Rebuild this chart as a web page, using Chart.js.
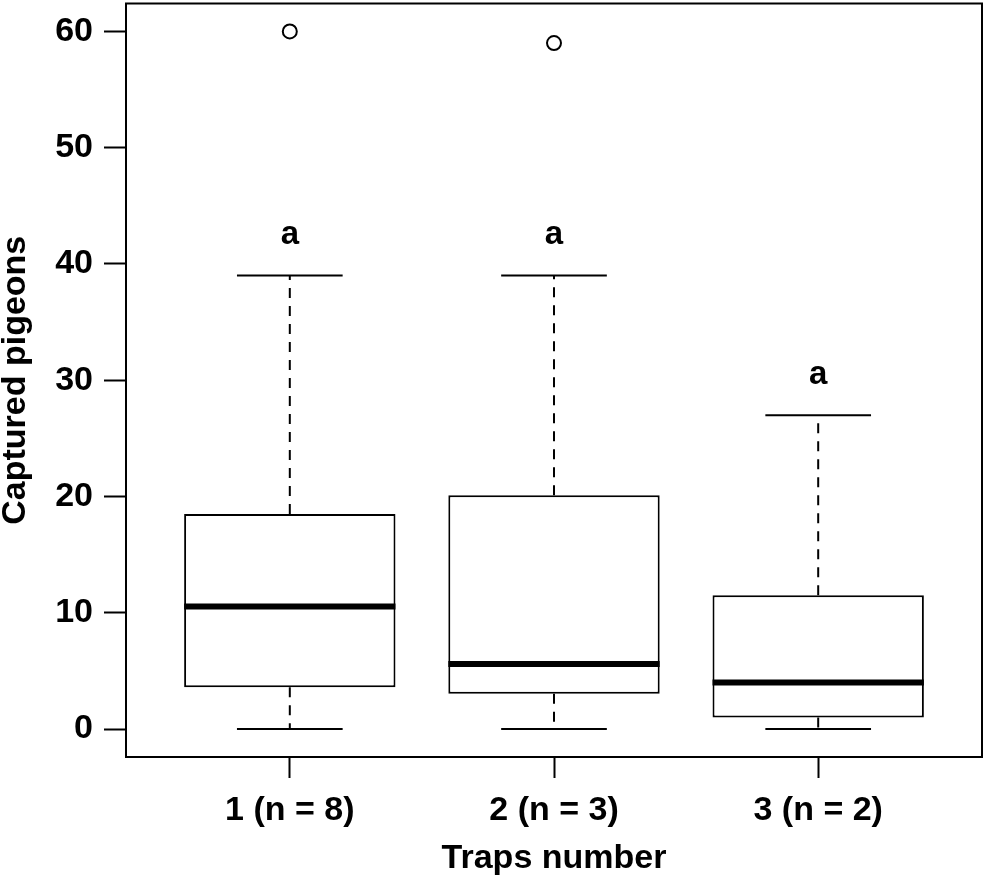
<!DOCTYPE html>
<html>
<head>
<meta charset="utf-8">
<script src="https://cdn.jsdelivr.net/npm/chart.js@4.4.1/dist/chart.umd.min.js"></script>
<style>
  html, body { margin: 0; padding: 0; background: #fff; }
  .chart-parent { width: 986px; height: 879px; }
</style>
</head>
<body>
<div class="chart-parent"><canvas id="myChart"></canvas></div>
<script>
// values
const categories = ['1 (n = 8)', '2 (n = 3)', '3 (n = 2)'];
const whiskerLow = [0, 0, 0];
const quartile1 = [3.6, 3.05, 1.0];
const medians = [10.55, 5.6, 4.0];
const quartile3 = [18.5, 20.1, 11.5];
const whiskerHigh = [39, 39, 27];
const outlierGroup = [1, 2];
const outlierValues = [60, 59];
const groupLetters = ['a', 'a', 'a'];
const yTicks = [0, 10, 20, 30, 40, 50, 60];

const FONT = 'Liberation Sans, Arial, Helvetica, sans-serif';
const BOX_HALF = 0.4;
const CAP_HALF = 0.2;
const LETTER_GAP = 3.5;

const boxPlugin = {
  id: 'boxParts',
  afterDatasetsDraw(chart) {
    const { ctx, scales: { x, y }, chartArea } = chart;
    ctx.save();
    ctx.strokeStyle = '#000';
    ctx.lineCap = 'butt';
    categories.forEach((c, i) => {
      const pos = i + 1;
      const cx = x.getPixelForValue(pos);

      // dashed whiskers
      ctx.lineWidth = 2;
      ctx.setLineDash([10, 8]);
      ctx.beginPath();
      ctx.moveTo(cx, y.getPixelForValue(quartile3[i]));
      ctx.lineTo(cx, y.getPixelForValue(whiskerHigh[i]));
      ctx.moveTo(cx, y.getPixelForValue(quartile1[i]));
      ctx.lineTo(cx, y.getPixelForValue(whiskerLow[i]));
      ctx.stroke();

      // caps
      ctx.setLineDash([]);
      ctx.beginPath();
      [whiskerLow[i], whiskerHigh[i]].forEach(v => {
        const py = y.getPixelForValue(v);
        ctx.moveTo(x.getPixelForValue(pos - CAP_HALF), py);
        ctx.lineTo(x.getPixelForValue(pos + CAP_HALF), py);
      });
      ctx.stroke();

      // median
      ctx.lineWidth = 6;
      ctx.beginPath();
      const my = y.getPixelForValue(medians[i]);
      ctx.moveTo(x.getPixelForValue(pos - BOX_HALF), my);
      ctx.lineTo(x.getPixelForValue(pos + BOX_HALF), my);
      ctx.stroke();

      // letters
      ctx.fillStyle = '#000';
      ctx.font = 'bold 33px ' + FONT;
      ctx.textAlign = 'center';
      ctx.textBaseline = 'middle';
      ctx.fillText(groupLetters[i], cx, y.getPixelForValue(whiskerHigh[i] + LETTER_GAP));
    });

    // plot frame
    ctx.lineWidth = 2;
    ctx.strokeRect(chartArea.left, chartArea.top,
      chartArea.right - chartArea.left, chartArea.bottom - chartArea.top);
    ctx.restore();
  }
};

const ctx = document.getElementById('myChart');

const myChart = new Chart(ctx, {
  type: 'bar',
  data: {
    datasets: [
      {
        type: 'bar',
        data: categories.map((c, i) => ({ x: i + 1, y: [quartile1[i], quartile3[i]] })),
        backgroundColor: '#fff',
        borderColor: '#000',
        borderWidth: 2,
        borderSkipped: false,
        barPercentage: 2 * BOX_HALF,
        categoryPercentage: 1,
      },
      {
        type: 'scatter',
        data: outlierGroup.map((g, i) => ({ x: g, y: outlierValues[i] })),
        pointRadius: 7,
        pointBorderWidth: 2,
        pointBackgroundColor: '#fff',
        pointBorderColor: '#000',
      },
    ],
  },
  options: {
    responsive: true,
    maintainAspectRatio: false,
    animation: false,
    layout: { autoPadding: false, padding: { top: 3.5, right: 4, left: 0, bottom: 0 } },
    plugins: {
      legend: { display: false },
      tooltip: { enabled: false },
    },
    scales: {
      x: {
        type: 'linear',
        offset: false,
        min: 0.38,
        max: 3.62,
        afterBuildTicks: (scale) => {
          scale.ticks = categories.map((c, i) => ({ value: i + 1 }));
        },
        afterFit: (scale) => {
          scale.height = 122;
          scale.paddingLeft = 0;
          scale.paddingRight = 0;
        },
        grid: { offset: false, drawOnChartArea: false, drawTicks: true, tickLength: 21, tickWidth: 2, tickColor: '#000' },
        border: { display: true, color: '#000', width: 2 },
        ticks: {
          autoSkip: false,
          maxRotation: 0,
          padding: 12,
          color: '#000',
          font: { family: FONT, size: 34, weight: 'bold' },
          callback: (value, index) => categories[index],
        },
        title: {
          display: true,
          text: 'Traps number',
          color: '#000',
          font: { family: FONT, size: 34, weight: 'bold' },
          padding: { top: 0, bottom: 0 },
        },
      },
      y: {
        min: -2.4,
        max: 62.4,
        afterBuildTicks: (scale) => {
          scale.ticks = yTicks.map(v => ({ value: v }));
        },
        afterFit: (scale) => {
          scale.width = 126;
          scale.paddingTop = 0;
          scale.paddingBottom = 0;
        },
        grid: { drawOnChartArea: false, drawTicks: true, tickLength: 22, tickWidth: 2, tickColor: '#000' },
        border: { display: true, color: '#000', width: 2 },
        ticks: {
          padding: 11,
          color: '#000',
          font: { family: FONT, size: 34, weight: 'bold' },
        },
        title: {
          display: true,
          text: 'Captured pigeons',
          color: '#000',
          font: { family: FONT, size: 34, weight: 'bold', lineHeight: 0.9 },
          padding: { top: 0, bottom: 0 },
        },
      },
    },
  },
  plugins: [boxPlugin],
});
</script>
</body>
</html>
